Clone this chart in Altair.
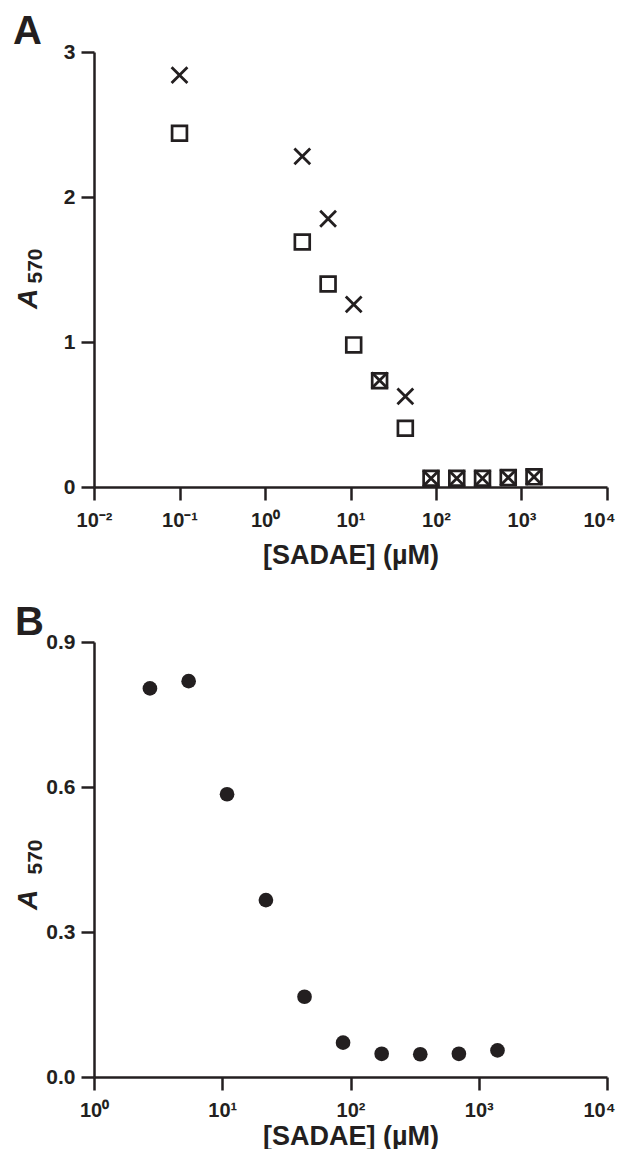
import altair as alt
import pandas as pd

# ---- data ----
conc_a = [0.1, 2.73, 5.47, 10.9, 21.9, 43.8, 87.5, 175, 350, 700, 1400]
cross_a = [2.84, 2.28, 1.85, 1.26, 0.735, 0.625, 0.06, 0.06, 0.06, 0.065, 0.07]
square_a = [2.44, 1.69, 1.40, 0.98, 0.733, 0.405, 0.06, 0.06, 0.06, 0.065, 0.07]

conc_b = [2.73, 5.47, 10.9, 21.9, 43.8, 87.5, 175, 350, 700, 1400]
circle_b = [0.804, 0.819, 0.585, 0.366, 0.166, 0.071, 0.048, 0.047, 0.048, 0.055]

x_ticks_a = [0.01, 0.1, 1, 10, 100, 1000, 10000]
x_ticks_b = [1, 10, 100, 1000, 10000]
y_ticks_a = [0, 1, 2, 3]
y_ticks_b = [0, 0.3, 0.6, 0.9]

x_title = "[SADAE] (µM)"
panel_letters = ["A", "B"]

INK = "#231f20"
FONT = "Liberation Sans"
W, H = 513, 435

sup_expr = ("'10' + (round(log(datum.value)/LN10) < 0 ? '⁻' : '') + "
            "['⁰','¹','²','³','⁴'][abs(round(log(datum.value)/LN10))]")


def x_axis(ticks, tpad):
    return alt.Axis(values=ticks, labelExpr=sup_expr, title=x_title, grid=False,
                    tickSize=13, tickWidth=2.5, domainWidth=2.5,
                    domainColor=INK, tickColor=INK, labelColor=INK, titleColor=INK,
                    labelFont=FONT, labelFontSize=20, labelFontWeight="bold",
                    titleFont=FONT, titleFontSize=27, titleFontWeight="bold",
                    labelPadding=10, titlePadding=tpad, labelFlush=False,
                    labelOverlap=False,
                    labelOffset={"condition": {"test": "datum.value >= 10000",
                                               "value": -8}, "value": 0})


def y_axis(ticks, fmt):
    return alt.Axis(values=ticks, format=fmt, title=None, grid=False,
                    tickSize=13, tickWidth=2.5, domainWidth=2.5,
                    domainColor=INK, tickColor=INK, labelColor=INK,
                    labelFont=FONT, labelFontSize=21, labelFontWeight="bold",
                    labelPadding=6, labelFlush=False, labelOverlap=False)


def y_title(a_y, sub_y):
    a = alt.Chart(pd.DataFrame({"t": ["A"]})).mark_text(
        angle=270, align="center", baseline="alphabetic", font=FONT,
        fontSize=28, fontWeight="bold", fontStyle="italic", color=INK
    ).encode(text="t:N", x=alt.value(-57), y=alt.value(a_y))
    s = alt.Chart(pd.DataFrame({"t": ["570"]})).mark_text(
        angle=270, align="center", baseline="alphabetic", font=FONT,
        fontSize=21, fontWeight="bold", color=INK
    ).encode(text="t:N", x=alt.value(-52), y=alt.value(sub_y))
    return a + s


def letter(txt, dx, dy):
    return alt.Chart(pd.DataFrame({"t": [txt]})).mark_text(
        align="left", baseline="alphabetic", font=FONT, fontSize=40,
        fontWeight="bold", color=INK
    ).encode(text="t:N", x=alt.value(dx), y=alt.value(dy))


df_a = pd.DataFrame({"conc": conc_a, "cross": cross_a, "square": square_a})
df_b = pd.DataFrame({"conc": conc_b, "value": circle_b})

xa = alt.X("conc:Q", scale=alt.Scale(type="log", domain=[0.01, 10000], nice=False),
           axis=x_axis(x_ticks_a, 12))
squares = alt.Chart(df_a).mark_point(
    shape="square", filled=False, size=220, strokeWidth=2.7, color=INK, opacity=1
).encode(x=xa, y=alt.Y("square:Q", scale=alt.Scale(domain=[0, 3], nice=False),
                       axis=y_axis(y_ticks_a, "d")))
crosses = alt.Chart(df_a).mark_point(
    shape="M-1,-1L1,1M-1,1L1,-1", filled=False, size=250, strokeWidth=2.8,
    color=INK, opacity=1
).encode(x=xa, y=alt.Y("cross:Q"))

panel_a = alt.layer(squares, crosses, y_title(247, 214),
                    letter(panel_letters[0], -81, -8)).properties(width=W, height=H)

xb = alt.X("conc:Q", scale=alt.Scale(type="log", domain=[1, 10000], nice=False),
           axis=x_axis(x_ticks_b, 3))
circles = alt.Chart(df_b).mark_circle(size=215, color=INK, opacity=1).encode(
    x=xb, y=alt.Y("value:Q", scale=alt.Scale(domain=[0, 0.9], nice=False),
                  axis=y_axis(y_ticks_b, ".1f")))
panel_b = alt.layer(circles, y_title(258, 215),
                    letter(panel_letters[1], -79, -7)).properties(width=W, height=H)

chart = alt.vconcat(panel_a, panel_b, spacing=35).properties(
    padding={"left": 5, "top": 4, "right": 0, "bottom": 0}
).configure_view(stroke=None).configure_concat(spacing=35)

chart.save("out.html", embed_options={"renderer": "svg", "actions": False})
